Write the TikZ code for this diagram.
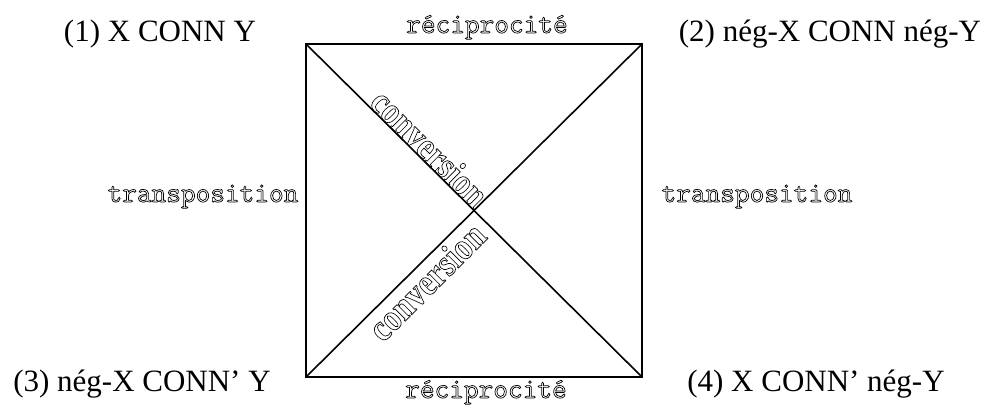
\documentclass[tikz,border=0pt]{standalone}
\usepackage{fontspec}
\setmainfont{Liberation Serif}
\setmonofont{Latin Modern Mono}
\newcommand{\hollow}[1]{\special{pdf:literal direct 1 Tr 0.7 w}#1\special{pdf:literal direct 0 Tr}}
\tikzset{
  lab/.style={font=\fontsize{31}{31}\selectfont, inner sep=0pt, anchor=base},
  oper/.style={font=\ttfamily\fontsize{28.5}{28.5}\selectfont, inner sep=0pt, anchor=base},
  conv/.style={font=\bfseries\fontsize{38}{38}\selectfont, inner sep=0pt},
  edge/.style={line width=1.6pt}
}
\begin{document}
\begin{tikzpicture}[x=1pt,y=1pt]
\useasboundingbox (0,0) rectangle (1002,414);
\coordinate (tl) at (306,370);
\coordinate (tr) at (642,370);
\coordinate (bl) at (306,37);
\coordinate (br) at (642,37);
\draw[edge] (tl) -- (tr) -- (br) -- (bl) -- cycle;
\draw[edge] (tl) -- (br);
\draw[edge] (bl) -- (tr);
\node[lab] (n1) at (160,372) {(1) X CONN Y};
\node[lab] (n2) at (830,372) {(2) nég-X CONN nég-Y};
\node[lab] (n3) at (142,22) {(3) nég-X CONN’ Y};
\node[lab] (n4) at (816,22) {(4) X CONN’ nég-Y};
\node[oper] (rt) at (487,381) {\hollow{réciprocité}};
\node[oper] (rb) at (486,16) {\hollow{réciprocité}};
\node[oper] (tpl) at (203,212) {\hollow{transposition}};
\node[oper] (tpr) at (757,212) {\hollow{transposition}};
\node[conv, rotate=-45] (cu) at (430,266) {\scalebox{0.85}[1]{\hollow{conversion}}};
\node[conv, rotate=45] (cl) at (426.5,132.5) {\scalebox{0.85}[1]{\hollow{conversion}}};
\end{tikzpicture}
\end{document}
